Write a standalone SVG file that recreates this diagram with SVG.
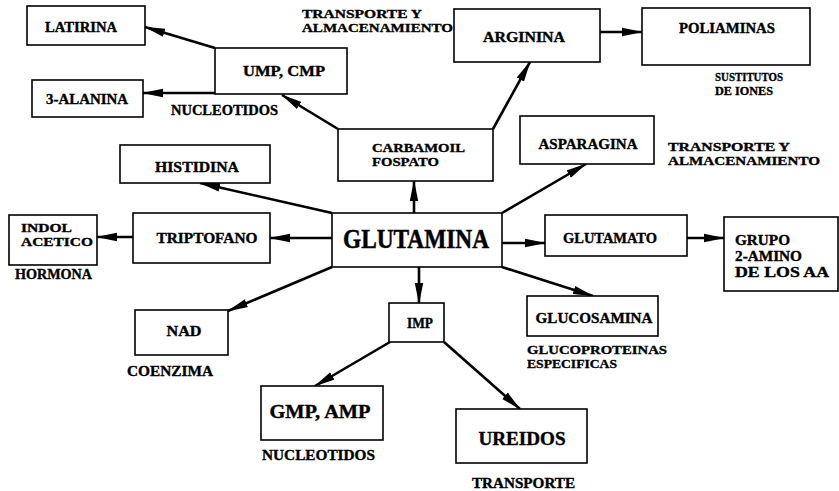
<svg xmlns="http://www.w3.org/2000/svg" width="839" height="491" viewBox="0 0 839 491">
<defs>
<marker id="ah" markerUnits="userSpaceOnUse" markerWidth="22" markerHeight="10" refX="20" refY="5" orient="auto">
<path d="M0,0.8 L21,5 L0,9.2 Z" fill="#000"/>
</marker>
<style>
.box{fill:#fff;stroke:#000;stroke-width:1.6}
.t{font-family:"Liberation Serif","Times New Roman",serif;font-weight:bold;fill:#000;stroke:#000;stroke-width:0.35;font-size:14px}
.m{font-size:12.5px}
.c{text-anchor:middle}
.big{font-size:27px;stroke-width:0.5}
.mid{font-size:19px;stroke-width:0.4}
.con line{stroke:#000;stroke-width:2.6;marker-end:url(#ah)}
</style>
</defs>
<rect width="839" height="491" fill="#fff"/>

<g id="connectors" class="con">
<line x1="215" y1="48" x2="145" y2="27"/>
<line x1="215" y1="93" x2="143" y2="93"/>
<line x1="338" y1="129" x2="282" y2="95"/>
<line x1="493" y1="129" x2="530" y2="62"/>
<line x1="600" y1="32" x2="642" y2="32"/>
<line x1="414" y1="213" x2="414" y2="181"/>
<line x1="332" y1="213" x2="200" y2="183"/>
<line x1="502" y1="213" x2="586" y2="164"/>
<line x1="332" y1="238" x2="270" y2="238"/>
<line x1="133" y1="237" x2="97" y2="237"/>
<line x1="502" y1="243" x2="545" y2="243"/>
<line x1="687" y1="238" x2="724" y2="238"/>
<line x1="332" y1="267" x2="228" y2="311"/>
<line x1="419" y1="267" x2="419" y2="303"/>
<line x1="502" y1="267" x2="593" y2="296"/>
<line x1="390" y1="342" x2="315" y2="386"/>
<line x1="444" y1="342" x2="520" y2="409"/>
</g>

<g id="latirina"><rect class="box" x="27" y="6" width="118" height="39"/><text class="t c" x="81" y="32" textLength="72" lengthAdjust="spacingAndGlyphs">LATIRINA</text></g>
<g id="alanina"><rect class="box" x="32" y="80" width="111" height="37"/><text class="t c" x="87" y="104" textLength="82" lengthAdjust="spacingAndGlyphs">3-ALANINA</text></g>
<g id="ump"><rect class="box" x="215" y="48" width="132" height="46"/><text class="t c" x="284" y="76" textLength="82" lengthAdjust="spacingAndGlyphs">UMP, CMP</text></g>
<g id="lbl-nucleotidos1"><text class="t" x="171" y="115" textLength="107" lengthAdjust="spacingAndGlyphs">NUCLEOTIDOS</text></g>
<g id="lbl-transporte1"><text class="t m" x="302" y="18" textLength="120" lengthAdjust="spacingAndGlyphs">TRANSPORTE Y</text><text class="t m" x="302" y="32" textLength="151" lengthAdjust="spacingAndGlyphs">ALMACENAMIENTO</text></g>
<g id="arginina"><rect class="box" x="454" y="9" width="146" height="53"/><text class="t c" x="524" y="42" textLength="82" lengthAdjust="spacingAndGlyphs">ARGININA</text></g>
<g id="poliaminas"><rect class="box" x="642" y="8" width="168" height="57"/><text class="t c" x="727" y="33" textLength="96" lengthAdjust="spacingAndGlyphs">POLIAMINAS</text></g>
<g id="lbl-sustitutos"><text class="t m" x="715" y="81" textLength="68" lengthAdjust="spacingAndGlyphs">SUSTITUTOS</text><text class="t m" x="715" y="95" textLength="58" lengthAdjust="spacingAndGlyphs">DE IONES</text></g>
<g id="carbamoil"><rect class="box" x="338" y="129" width="155" height="52"/><text class="t m" x="372" y="152" textLength="93" lengthAdjust="spacingAndGlyphs">CARBAMOIL</text><text class="t m" x="372" y="166" textLength="67" lengthAdjust="spacingAndGlyphs">FOSPATO</text></g>
<g id="histidina"><rect class="box" x="120" y="145" width="150" height="38"/><text class="t c" x="197" y="172" textLength="84" lengthAdjust="spacingAndGlyphs">HISTIDINA</text></g>
<g id="asparagina"><rect class="box" x="520" y="116" width="134" height="48"/><text class="t c" x="588" y="149" textLength="99" lengthAdjust="spacingAndGlyphs">ASPARAGINA</text></g>
<g id="lbl-transporte2"><text class="t m" x="668" y="151" textLength="122" lengthAdjust="spacingAndGlyphs">TRANSPORTE Y</text><text class="t m" x="668" y="165" textLength="152" lengthAdjust="spacingAndGlyphs">ALMACENAMIENTO</text></g>
<g id="indol"><rect class="box" x="9" y="215" width="88" height="50"/><text class="t m" x="21" y="232" textLength="51" lengthAdjust="spacingAndGlyphs">INDOL</text><text class="t m" x="21" y="246" textLength="72" lengthAdjust="spacingAndGlyphs">ACETICO</text></g>
<g id="lbl-hormona"><text class="t" x="15" y="279" textLength="77" lengthAdjust="spacingAndGlyphs">HORMONA</text></g>
<g id="triptofano"><rect class="box" x="133" y="213" width="137" height="50"/><text class="t c" x="207" y="243" textLength="101" lengthAdjust="spacingAndGlyphs">TRIPTOFANO</text></g>
<g id="glutamina"><rect class="box" x="332" y="213" width="170" height="54"/><text class="t c big" x="416" y="248" textLength="146" lengthAdjust="spacingAndGlyphs">GLUTAMINA</text></g>
<g id="glutamato"><rect class="box" x="545" y="215" width="142" height="41"/><text class="t c" x="610" y="243" textLength="94" lengthAdjust="spacingAndGlyphs">GLUTAMATO</text></g>
<g id="grupo"><rect class="box" x="724" y="217" width="114" height="74"/><text class="t" x="735" y="245" textLength="55" lengthAdjust="spacingAndGlyphs">GRUPO</text><text class="t" x="735" y="261" textLength="67" lengthAdjust="spacingAndGlyphs">2-AMINO</text><text class="t" x="735" y="277" textLength="94" lengthAdjust="spacingAndGlyphs">DE LOS AA</text></g>
<g id="nad"><rect class="box" x="135" y="310" width="93" height="45"/><text class="t c" x="184" y="336" textLength="35" lengthAdjust="spacingAndGlyphs">NAD</text></g>
<g id="lbl-coenzima"><text class="t" x="127" y="376" textLength="86" lengthAdjust="spacingAndGlyphs">COENZIMA</text></g>
<g id="imp"><rect class="box" x="389" y="303" width="55" height="39"/><text class="t c" x="420" y="328" textLength="26" lengthAdjust="spacingAndGlyphs">IMP</text></g>
<g id="glucosamina"><rect class="box" x="527" y="296" width="131" height="40"/><text class="t c" x="594" y="323" textLength="117" lengthAdjust="spacingAndGlyphs">GLUCOSAMINA</text></g>
<g id="lbl-glucoproteinas"><text class="t m" x="527" y="354" textLength="140" lengthAdjust="spacingAndGlyphs">GLUCOPROTEINAS</text><text class="t m" x="527" y="368" textLength="90" lengthAdjust="spacingAndGlyphs">ESPECIFICAS</text></g>
<g id="gmp"><rect class="box" x="261" y="386" width="122" height="54"/><text class="t c mid" x="320" y="418" textLength="101" lengthAdjust="spacingAndGlyphs">GMP, AMP</text></g>
<g id="lbl-nucleotidos2"><text class="t" x="262" y="460" textLength="113" lengthAdjust="spacingAndGlyphs">NUCLEOTIDOS</text></g>
<g id="ureidos"><rect class="box" x="456" y="409" width="131" height="54"/><text class="t c mid" x="522" y="445" textLength="87" lengthAdjust="spacingAndGlyphs">UREIDOS</text></g>
<g id="lbl-transporte3"><text class="t" x="472" y="488" textLength="103" lengthAdjust="spacingAndGlyphs">TRANSPORTE</text></g>
</svg>
